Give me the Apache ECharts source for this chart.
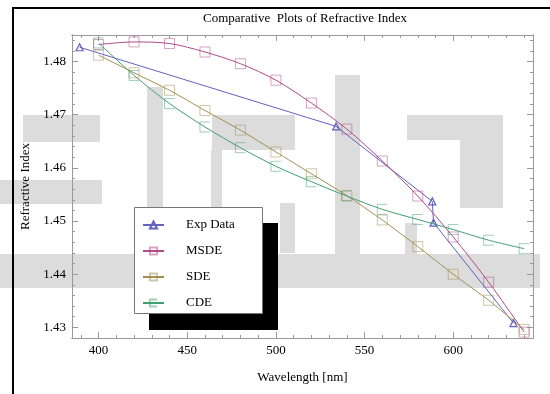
<!DOCTYPE html>
<html>
<head>
<meta charset="utf-8">
<script src="https://cdn.jsdelivr.net/npm/echarts@6/dist/echarts.min.js"></script>
<style>
html, body { margin: 0; padding: 0; background: #fff; }
#chart { width: 550px; height: 394px; }
</style>
</head>
<body>
<div id="chart"></div>
<script>
// model curves, sampled every 20 nm
let wavelengths = [400, 420, 440, 460, 480, 500, 520, 540, 560, 580, 600, 620, 640];
let msde = [1.4832, 1.4837, 1.4834, 1.4818, 1.4796, 1.4765, 1.4722, 1.4673, 1.4613, 1.4547, 1.4470, 1.4385, 1.4291];
let sde  = [1.4812, 1.4779, 1.4746, 1.4708, 1.4671, 1.4630, 1.4589, 1.4548, 1.4502, 1.4452, 1.4400, 1.4351, 1.4296];
let cde  = [1.4835, 1.4774, 1.4721, 1.4677, 1.4638, 1.4603, 1.4574, 1.4547, 1.4522, 1.4503, 1.4484, 1.4464, 1.4448];

// measured points
let expWavelength = [389.3, 534.0, 588.2, 588.9, 634.0];
let expIndex = [1.4827, 1.4678, 1.4537, 1.4497, 1.4308];

let xMajor = [400, 450, 500, 550, 600];
let yMajor = [1.43, 1.44, 1.45, 1.46, 1.47, 1.48];

let xMinor = [];
for (let v = 390; v <= 640; v += 10) xMinor.push(v);
let yMinor = [];
for (let k = 715; k <= 742; k++) yMinor.push(k * 0.002);

let font = 'Liberation Serif';
let frame = '#9a9a9a';
let colors = ['#6262c0', '#b04a88', '#a08f50', '#40a070'];

function xAx(pos, ticks, len, main) {
    return {
        type: 'value', position: pos, min: 385, max: 645,
        axisLine: { show: true, onZero: false, lineStyle: { color: frame, width: 1 } },
        axisTick: { show: true, inside: true, length: len, customValues: ticks, lineStyle: { color: frame } },
        axisLabel: main ? {
            show: true, customValues: ticks, margin: 6,
            fontFamily: font, fontSize: 13, color: '#000'
        } : { show: false },
        splitLine: { show: false },
        name: main ? 'Wavelength [nm]' : '',
        nameLocation: 'middle', nameGap: 33,
        nameTextStyle: { fontFamily: font, fontSize: 13, color: '#000' }
    };
}
function yAx(pos, ticks, len, main) {
    return {
        type: 'value', position: pos, min: 1.428, max: 1.485,
        axisLine: { show: true, onZero: false, lineStyle: { color: frame, width: 1 } },
        axisTick: { show: true, inside: true, length: len, customValues: ticks, lineStyle: { color: frame } },
        axisLabel: main ? {
            show: true, customValues: ticks, margin: 6,
            fontFamily: font, fontSize: 13, color: '#000',
            formatter: v => v.toFixed(2)
        } : { show: false },
        splitLine: { show: false },
        name: main ? 'Refractive Index' : '',
        nameLocation: 'middle', nameGap: 39, nameRotate: 90,
        nameTextStyle: { fontFamily: font, fontSize: 13, color: '#000' }
    };
}

// faded watermark blocks behind the plot
let wash = [
    [23, 115, 77, 27], [147, 87, 16, 210], [212, 115, 83, 35], [211, 150, 11, 100],
    [335, 75, 25, 180], [407, 115, 96, 25], [460, 140, 43, 68], [405, 223, 12, 32],
    [280, 203, 15, 50], [0, 180, 102, 24], [0, 254, 540, 34]
];
let graphics = wash.map(r => ({
    type: 'rect', z: -1, silent: true,
    shape: { x: r[0], y: r[1], width: r[2], height: r[3] },
    style: { fill: '#dcdcdc' }
}));
graphics.push(
    { type: 'rect', z: 1, shape: { x: 12, y: 7, width: 538, height: 2 }, style: { fill: '#000' } },
    { type: 'rect', z: 1, shape: { x: 12, y: 7, width: 2, height: 387 }, style: { fill: '#000' } },
    { type: 'rect', z: 3, shape: { x: 149, y: 223, width: 129, height: 107 }, style: { fill: '#000' } },
    { type: 'rect', z: 4, shape: { x: 134.5, y: 207.5, width: 128, height: 106 },
      style: { fill: '#fff', stroke: '#777', lineWidth: 1 } },
    { type: 'text', z: 1, x: 305, y: 19,
      style: { text: 'Comparative  Plots of Refractive Index', font: '13px "Liberation Serif"',
               fill: '#000', textAlign: 'center', textVerticalAlign: 'middle' } }
);

function fade(hex, a) {
    let n = parseInt(hex.slice(1), 16);
    return 'rgba(' + (n >> 16) + ',' + ((n >> 8) & 255) + ',' + (n & 255) + ',' + a + ')';
}

function model(name, vals, i, smooth, sym) {
    return {
        name: name, type: 'line', smooth: smooth,
        xAxisIndex: 0, yAxisIndex: 0,
        data: wavelengths.map((w, j) => [w, vals[j]]),
        symbol: sym, symbolSize: 10, showSymbol: true,
        lineStyle: { color: colors[i], width: 1 },
        itemStyle: { color: 'transparent', borderColor: fade(colors[i], 0.5), borderWidth: 1 },
        emphasis: { disabled: true }
    };
}

let option = {
    animation: false,
    backgroundColor: '#fff',
    grid: { left: 72, right: 17, top: 35, bottom: 56 },
    xAxis: [xAx('bottom', xMajor, 6, true), xAx('bottom', xMinor, 3, false),
            xAx('top', xMajor, 6, false), xAx('top', xMinor, 3, false)],
    yAxis: [yAx('left', yMajor, 6, true), yAx('left', yMinor, 3, false),
            yAx('right', yMajor, 6, false), yAx('right', yMinor, 3, false)],
    legend: {
        orient: 'vertical', left: 142, top: 218, padding: 0, z: 5,
        itemWidth: 21, itemHeight: 9, itemGap: 12,
        textStyle: { fontFamily: font, fontSize: 13, lineHeight: 14, color: '#000', padding: [0, 0, 0, 17] },
        data: ['Exp Data', 'MSDE', 'SDE', 'CDE']
    },
    graphic: graphics,
    series: [
        {
            name: 'Exp Data', type: 'line',
            xAxisIndex: 0, yAxisIndex: 0,
            data: expWavelength.map((w, j) => [w, expIndex[j]]),
            symbol: 'triangle', symbolSize: 7, showSymbol: true,
            lineStyle: { color: colors[0], width: 1 },
            itemStyle: { color: 'transparent', borderColor: colors[0], borderWidth: 1.2 },
            emphasis: { disabled: true }
        },
        model('MSDE', msde, 1, 0.3, 'rect'),
        model('SDE', sde, 2, 0.2, 'rect'),
        model('CDE', cde, 3, 0.3, 'path://M10,0 L0,0 L0,10 L10,10')
    ]
};

let chart = echarts.init(document.getElementById('chart'));
chart.setOption(option);
</script>
</body>
</html>
